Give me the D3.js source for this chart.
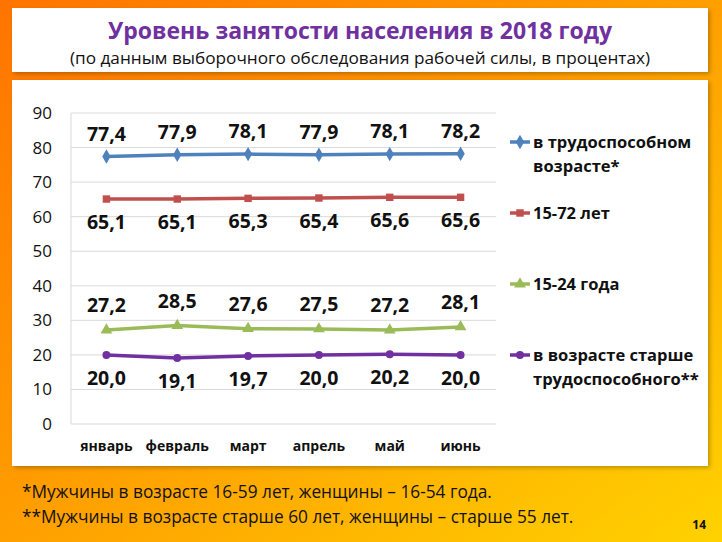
<!DOCTYPE html>
<html><head><meta charset="utf-8">
<script src="https://cdn.jsdelivr.net/npm/d3@7"></script>
<style>body{margin:0;padding:0;}svg{display:block;}</style>
</head><body>
<script>
const months = ["январь","февраль","март","апрель","май","июнь"];
const workingAge = [77.4,77.9,78.1,77.9,78.1,78.2];
const age1572 = [65.1,65.1,65.3,65.4,65.6,65.6];
const age1524 = [27.2,28.5,27.6,27.5,27.2,28.1];
const olderAge = [20.0,19.1,19.7,20.0,20.2,20.0];
const yTicks = [0,10,20,30,40,50,60,70,80,90];
const seriesNames = [["в трудоспособном","возрасте*"],["15-72 лет"],["15-24 года"],["в возрасте старше","трудоспособного**"]];
const title = "Уровень занятости населения в 2018 году";
const subtitle = "(по данным выборочного обследования рабочей силы, в процентах)";
const notes = ["*Мужчины в возрасте 16-59 лет, женщины – 16-54 года.","**Мужчины в возрасте старше 60 лет, женщины – старше 55 лет."];

const W=722,H=542;
const FONT="'Open Sans', 'Noto Sans', sans-serif";
const svg=d3.select("body").append("svg").attr("width",W).attr("height",H);
const defs=svg.append("defs");
const g=defs.append("linearGradient").attr("id","bg").attr("x1","0").attr("y1","0").attr("x2","1").attr("y2","1");
g.append("stop").attr("offset","0").attr("stop-color","#ff7400");
g.append("stop").attr("offset","0.5").attr("stop-color","#ff9f00");
g.append("stop").attr("offset","1").attr("stop-color","#ffd200");
const f=defs.append("filter").attr("id","sh").attr("x","-5%").attr("y","-5%").attr("width","110%").attr("height","115%");
f.append("feDropShadow").attr("dx",2).attr("dy",2).attr("stdDeviation",2).attr("flood-color","#000").attr("flood-opacity",0.25);

svg.append("rect").attr("width",W).attr("height",H).attr("fill","url(#bg)");
svg.append("rect").attr("x",12).attr("y",8).attr("width",696).attr("height",64).attr("fill","#fff").attr("filter","url(#sh)");
svg.append("rect").attr("x",12).attr("y",80).attr("width",696).attr("height",386).attr("fill","#fff").attr("filter","url(#sh)");

svg.append("text").attr("x",360).attr("y",38.5).attr("text-anchor","middle").attr("font-family",FONT)
  .attr("font-weight","bold").attr("font-size",23).attr("fill","#7030a0").text(title);
svg.append("text").attr("x",360).attr("y",64).attr("text-anchor","middle").attr("font-family",FONT)
  .attr("font-size",17.2).attr("fill","#111").text(subtitle);

const x=d3.scaleBand().domain(months).range([71,496]);
const y=d3.scaleLinear().domain([0,90]).range([424,113]);

// grid
svg.append("g").selectAll("line").data(yTicks).join("line")
  .attr("x1",71).attr("x2",496).attr("y1",d=>y(d)).attr("y2",d=>y(d))
  .attr("stroke","#d9d9d9").attr("stroke-width",1);
svg.append("line").attr("x1",71).attr("x2",71).attr("y1",y(90)).attr("y2",y(0)).attr("stroke","#d9d9d9");

const yAxis=svg.append("g").attr("transform","translate(71,0)").call(d3.axisLeft(y).tickValues(yTicks).tickSize(0).tickPadding(19));
yAxis.select(".domain").remove();
yAxis.selectAll("text").attr("font-family",FONT).attr("font-size",17).attr("fill","#111");

const xAxis=svg.append("g").attr("transform","translate(0,424)").call(d3.axisBottom(x).tickSize(0).tickPadding(17));
xAxis.select(".domain").remove();
xAxis.selectAll("text").attr("font-family",FONT).attr("font-size",14).attr("font-weight","bold").attr("fill","#111");

const series=[
 {vals:workingAge,color:"#4f81bd",sym:d3.symbolDiamond,size:60,lab:-16},
 {vals:age1572,color:"#c0504d",sym:d3.symbolSquare,size:55,lab:30},
 {vals:age1524,color:"#9bbb59",sym:d3.symbolTriangle,size:60,lab:-18},
 {vals:olderAge,color:"#7030a0",sym:d3.symbolCircle,size:50,lab:30}
];
const line=d3.line().x((d,i)=>x(months[i])+x.bandwidth()/2).y(d=>y(d));
const fmt=v=>v.toFixed(1).replace(".",",");
series.forEach(s=>{
  svg.append("path").datum(s.vals).attr("d",line).attr("fill","none").attr("stroke",s.color).attr("stroke-width",3.5);
  svg.append("g").selectAll("path").data(s.vals).join("path")
    .attr("transform",(d,i)=>`translate(${x(months[i])+x.bandwidth()/2},${y(d)})`)
    .attr("d",d3.symbol().type(s.sym).size(s.size)).attr("fill",s.color);
  svg.append("g").selectAll("text").data(s.vals).join("text")
    .attr("x",(d,i)=>x(months[i])+x.bandwidth()/2).attr("y",d=>y(d)+s.lab)
    .attr("text-anchor","middle").attr("font-family",FONT).attr("font-weight","bold").attr("font-size",19.5)
    .attr("fill","#111").text(d=>fmt(d));
});

// legend
const legY=[142,213,284,355];
series.forEach((s,i)=>{
  const ly=legY[i];
  svg.append("line").attr("x1",510).attr("x2",530).attr("y1",ly).attr("y2",ly).attr("stroke",s.color).attr("stroke-width",3.5);
  svg.append("path").attr("transform",`translate(520,${ly})`).attr("d",d3.symbol().type(s.sym).size(s.size)).attr("fill",s.color);
  seriesNames[i].forEach((t,j)=>{
    svg.append("text").attr("x",533).attr("y",ly+6+j*24).attr("font-family",FONT).attr("font-weight","bold")
      .attr("font-size",16.5).attr("fill","#111").text(t);
  });
});

notes.forEach((t,i)=>{
  svg.append("text").attr("x",22).attr("y",498+i*25).attr("font-family",FONT).attr("font-size",17.3).attr("fill","#111").text(t);
});
svg.append("text").attr("x",706).attr("y",529).attr("text-anchor","end").attr("font-family",FONT).attr("font-weight","bold")
  .attr("font-size",12).attr("fill","#111").text("14");
</script>
</body></html>
